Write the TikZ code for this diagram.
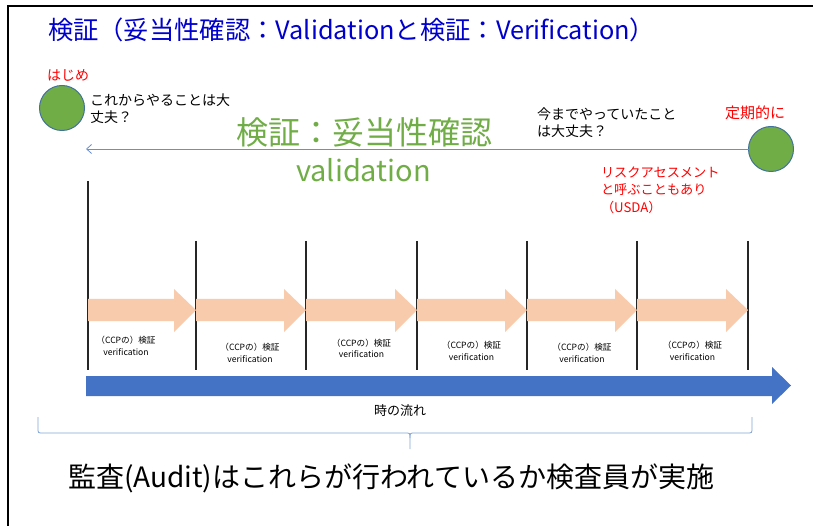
\documentclass[tikz,border=0pt]{standalone}
\usepackage{fontspec}
\newfontfamily\jp{Noto Sans CJK JP}
\usetikzlibrary{arrows.meta}
\definecolor{ttlblue}{HTML}{0000CC}
\definecolor{cgreen}{HTML}{70AD47}
\definecolor{cborder}{HTML}{41719C}
\definecolor{peach}{HTML}{F8CBAD}
\definecolor{bigblue}{HTML}{4472C4}
\definecolor{thinblue}{HTML}{6A8FD0}
\definecolor{bracecol}{HTML}{7FA3D8}
\definecolor{vlinecol}{HTML}{262626}
\tikzset{
  txt/.style={anchor=west, align=left, font=\jp\fontsize{14}{17}\selectfont},
  redtxt/.style={txt, text=red},
  dot/.style={circle, fill=cgreen, draw=cborder, line width=1pt, minimum size=45pt},
  vline/.style={draw=vlinecol, line width=1.4pt},
  peachshape/.style={fill=peach},
  ccp/.style={align=center, font=\jp\fontsize{8.6}{11.5}\selectfont},
}
\begin{document}
\begin{tikzpicture}[x=1pt,y=-1pt, every node/.style={inner sep=0pt, outer sep=0pt}]
\useasboundingbox (0,0) rectangle (813,526);
% frame
\draw[line width=2pt] (8,526) -- (8,6) -- (813,6);
% title
\node[anchor=west, text=ttlblue, font=\jp\fontsize{25.3}{28}\selectfont] (title) at (48,30) {検証（妥当性確認：Validationと検証：Verification）};
% circles
\node[dot] (start) at (62,108) {};
\node[dot] (periodic) at (771,149) {};
\node[redtxt] (hajime) at (47,75) {はじめ};
\node[redtxt, font=\jp\fontsize{15}{17}\selectfont] (teiki) at (725,113) {定期的に};
\node[txt] (q1) at (90,108.5) {これからやることは大\\丈夫？};
\node[txt] (q2) at (537,123) {今までやっていたこと\\は大丈夫？};
\node[redtxt, font=\jp\fontsize{13.2}{17.5}\selectfont] (risk) at (601,190) {リスクアセスメント\\と呼ぶこともあり\\（USDA）};
% green text
\node[anchor=west, text=cgreen, font=\jp\fontsize{32}{34}\selectfont] (valj) at (236,132) {検証：妥当性確認};
\node[anchor=west, text=cgreen, font=\jp\fontsize{29}{32}\selectfont] (vale) at (296,170) {validation};
% thin arrow
\coordinate (arrEnd) at (86,149);
\draw[thinblue, line width=0.8pt, -{Straight Barb[length=5pt,width=9pt]}] (periodic.west) -- (arrEnd);
% vertical lines
\coordinate (t0) at (88,181); \coordinate (b0) at (88,370);
\foreach \i/\x in {1/196,2/306,3/417,4/527,5/637,6/748} {
  \coordinate (t\i) at (\x,241); \coordinate (b\i) at (\x,370);
}
\foreach \i in {0,...,6} { \draw[vline] (t\i) -- (b\i); }
% peach arrows
\foreach \a/\b in {88/196,196/306,306/417,417/527,527/637,637/748} {
  \fill[peachshape] (\a,299) -- (\b-22,299) -- (\b-22,289) -- (\b,310) -- (\b-22,332) -- (\b-22,321) -- (\a,321) -- cycle;
}
% labels
\node[ccp] (c1) at (126,346) {（CCPの）検証\\verification};
\node[ccp] (c2) at (250,353) {（CCPの）検証\\verification};
\node[ccp] (c3) at (361.5,348.5) {（CCPの）検証\\verification};
\node[ccp] (c4) at (471.5,351) {（CCPの）検証\\verification};
\node[ccp] (c5) at (582,353) {（CCPの）検証\\verification};
\node[ccp] (c6) at (692.5,351) {（CCPの）検証\\verification};
% big blue arrow
\fill[bigblue] (86,376) -- (772,376) -- (772,367) -- (791,385.5) -- (772,404) -- (772,396) -- (86,396) -- cycle;
\node[font=\jp\fontsize{13}{15}\selectfont] (flow) at (400,411) {時の流れ};
% brace
\draw[bracecol, line width=0.8pt] (38,417) -- (38,428) .. controls (38,433) .. (43,433) -- (405,433) .. controls (410,433) .. (410,438) -- (410,449);
\draw[bracecol, line width=0.8pt] (752,417) -- (752,428) .. controls (752,433) .. (747,433) -- (415,433) .. controls (410,433) .. (410,438);
\node[anchor=west, font=\jp\fontsize{28}{30}\selectfont] (audit) at (68,478) {監査(Audit)はこれらが行われているか検査員が実施};
\end{tikzpicture}
\end{document}
